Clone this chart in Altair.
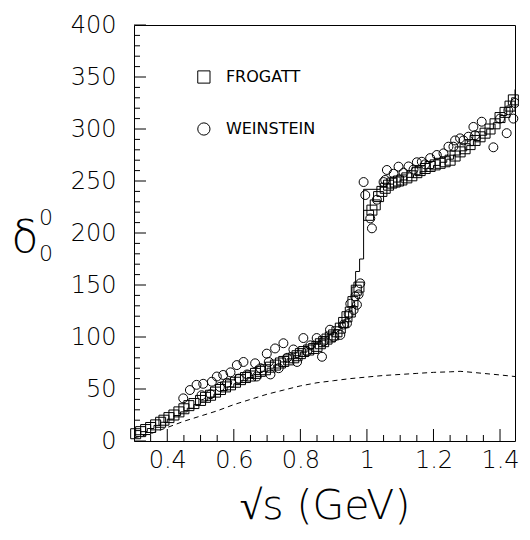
import altair as alt
import pandas as pd

AXFONT = "DejaVu Sans"

# FROGATT phase shifts (squares)
frog_x = [0.305, 0.32, 0.335, 0.35, 0.365, 0.38, 0.39, 0.405, 0.42, 0.435, 0.45, 0.465, 0.48, 0.50,
          0.515, 0.53, 0.545, 0.56, 0.575, 0.59, 0.605, 0.62, 0.635, 0.65, 0.665, 0.68, 0.695, 0.71,
          0.725, 0.74, 0.75, 0.765, 0.78, 0.79, 0.80, 0.81, 0.825, 0.84, 0.85, 0.86, 0.87, 0.88, 0.89,
          0.90, 0.91, 0.92, 0.93, 0.94, 0.95, 0.958, 0.968, 0.976, 1.005, 1.015, 1.025, 1.035, 1.045,
          1.055, 1.065, 1.075, 1.085, 1.095, 1.105, 1.12, 1.135, 1.15, 1.16, 1.175, 1.19, 1.205, 1.22,
          1.235, 1.25, 1.265, 1.28, 1.295, 1.31, 1.325, 1.34, 1.355, 1.37, 1.385, 1.40, 1.415, 1.43, 1.44]
frog_y = [7, 9, 11, 13, 15.5, 18, 20, 22.5, 25, 28, 31, 34, 36, 39,
          42, 44, 47, 49.5, 52, 54, 56.5, 59, 61, 62.5, 65, 67, 68.5, 71,
          73, 75, 76.5, 78, 80, 82, 84, 86, 87.5, 89, 91, 93.5, 95.5, 98, 100,
          102, 105, 108.5, 114, 119.5, 124, 134, 145, 148, 217, 222, 227, 235, 240,
          243, 246, 248, 249, 250, 251, 253, 255, 258, 260, 262, 264, 265.5, 267,
          268.5, 270, 274, 278, 281, 285, 289, 292.5, 296, 300, 305, 311, 316, 322, 328]

# WEINSTEIN phase shifts (circles)
wein_x = [0.448, 0.468, 0.488, 0.503, 0.508, 0.53, 0.534, 0.549, 0.558, 0.568, 0.58, 0.59, 0.609,
          0.615, 0.629, 0.64, 0.664, 0.669, 0.68, 0.699, 0.705, 0.71, 0.724, 0.735, 0.749, 0.76,
          0.779, 0.79, 0.809, 0.82, 0.83, 0.849, 0.865, 0.87, 0.889, 0.90, 0.92, 0.93, 0.94, 0.945,
          0.95, 0.96, 0.965, 0.97, 0.975, 0.98, 0.99, 0.995, 1.01, 1.015, 1.03, 1.05, 1.055, 1.06,
          1.08, 1.095, 1.11, 1.125, 1.14, 1.15, 1.165, 1.175, 1.19, 1.21, 1.23, 1.245, 1.26, 1.265,
          1.28, 1.29, 1.305, 1.32, 1.325, 1.345, 1.38, 1.40, 1.42, 1.425, 1.44, 1.445]
wein_y = [41, 49, 54, 44, 55, 45, 57, 62, 52, 63.5, 56, 66, 73,
          60, 76, 64, 74.7, 62, 70, 84, 76, 64, 89, 70, 94, 80,
          88, 76, 99, 86, 92, 99, 81, 96, 107, 100, 102, 112, 113, 122,
          132, 126, 139, 131, 141, 151.6, 249, 236.5, 214, 204.5, 232, 249, 251, 260.6,
          257, 263.8, 258, 264, 261, 268, 268.5, 266, 272, 275, 276.6, 283, 283, 289,
          291, 289, 292.6, 302, 294, 307, 282.4, 310, 296, 318, 310, 325]

# solid step curve
fit_x = [0.30, 0.32, 0.34, 0.36, 0.38, 0.40, 0.42, 0.44, 0.46, 0.48, 0.50, 0.52, 0.54, 0.56, 0.58,
         0.60, 0.62, 0.64, 0.66, 0.68, 0.70, 0.72, 0.74, 0.76, 0.78, 0.80, 0.82, 0.84, 0.86, 0.88,
         0.90, 0.92, 0.935, 0.945, 0.955, 0.966, 0.978, 0.99, 1.04, 1.06, 1.08, 1.10, 1.12, 1.14,
         1.16, 1.18, 1.20, 1.22, 1.24, 1.26, 1.28, 1.30, 1.32, 1.34, 1.36, 1.38, 1.40, 1.42, 1.435, 1.445]
fit_y = [6, 9, 12, 15, 18, 21, 24.5, 28, 31.5, 35, 38.5, 42, 45, 48.5, 52,
         55, 58, 61, 64, 67, 70, 73, 76, 79, 82, 85.5, 89, 93, 97, 102,
         107, 114, 119, 125, 148, 163, 175, 242, 244, 247, 249, 251, 253.5, 256,
         259, 262, 265, 268, 271, 275, 279, 284, 289, 294, 300, 306, 313, 321, 330, 338]

# dashed curve
dash_x = [0.30, 0.35, 0.40, 0.45, 0.50, 0.55, 0.60, 0.65, 0.70, 0.75, 0.80, 0.85, 0.90, 0.95,
          1.00, 1.05, 1.10, 1.15, 1.20, 1.25, 1.28, 1.30, 1.35, 1.40, 1.445]
dash_y = [3, 7, 13, 19, 24, 29, 35, 40, 45, 49, 53, 56, 58, 60,
          61.5, 63, 64, 65, 66, 66.5, 67, 66.5, 65, 63.5, 62]

x_major = [0.4, 0.6, 0.8, 1.0, 1.2, 1.4]
x_minor = [0.35, 0.45, 0.5, 0.55, 0.65, 0.7, 0.75, 0.85, 0.9, 0.95, 1.05, 1.1, 1.15, 1.25, 1.3, 1.35]
y_major = [0, 50, 100, 150, 200, 250, 300, 350, 400]
y_minor = [v for v in range(10, 400, 10) if v % 50 != 0]

legend_labels = ["FROGATT", "WEINSTEIN"]
legend_shapes = ["square", "circle"]
legend_x = [0.51, 0.51]
legend_y = [350, 300]

W, H = 381, 416
xs = alt.Scale(domain=[0.3, 1.445], nice=False, zero=False)
ys = alt.Scale(domain=[0, 400], nice=False, zero=False)

frog = pd.DataFrame({"x": frog_x, "y": frog_y})
wein = pd.DataFrame({"x": wein_x, "y": wein_y})
fit = pd.DataFrame({"x": fit_x, "y": fit_y})
dash = pd.DataFrame({"x": dash_x, "y": dash_y})
leg = pd.DataFrame({"x": legend_x, "y": legend_y, "label": legend_labels, "shape": legend_shapes})

xaxis = alt.Axis(values=x_major, format="~g", ticks=False, domain=False, grid=False,
                 labelFont=AXFONT, labelFontSize=24, labelFontWeight=200, labelColor="black",
                 labelPadding=7, labelFlush=False, labelOverlap=False,
                 title="√s (GeV)", titleFont=AXFONT, titleFontSize=41, titleFontWeight=200,
                 titleColor="black", titlePadding=14)
yaxis = alt.Axis(values=y_major, ticks=False, domain=False, grid=False,
                 labelFont=AXFONT, labelFontSize=24, labelFontWeight=200, labelColor="black",
                 labelPadding=18, labelFlush=False, labelOverlap=False, title=None)


def X(field="x"):
    return alt.X(f"{field}:Q", scale=xs, axis=xaxis, title="√s (GeV)")


def Y(field="y"):
    return alt.Y(f"{field}:Q", scale=ys, axis=yaxis, title=None)


squares = alt.Chart(frog).mark_point(shape="square", filled=False, size=100, color="black",
                                     strokeWidth=1, opacity=1).encode(x=X(), y=Y())
circles = alt.Chart(wein).mark_point(shape="circle", filled=False, size=80, color="black",
                                     strokeWidth=1, opacity=1).encode(x=X(), y=Y())
stepline = alt.Chart(fit).mark_line(interpolate="step-after", color="black", strokeWidth=1).encode(x=X(), y=Y())
dashed = alt.Chart(dash).mark_line(color="black", strokeWidth=1, strokeDash=[5, 4]).encode(x=X(), y=Y())


def xticks(vals, length):
    return alt.Chart(pd.DataFrame({"x": vals})).mark_rule(color="black", strokeWidth=1).encode(
        x=X(), y=alt.value(H), y2=alt.value(H - length))


def yticks(vals, length):
    return alt.Chart(pd.DataFrame({"y": vals})).mark_rule(color="black", strokeWidth=1).encode(
        y=Y(), x=alt.value(0), x2=alt.value(length))


leg_sym = alt.Chart(leg).mark_point(filled=False, size=150, color="black", strokeWidth=1, opacity=1).encode(
    x=X(), y=Y(), shape=alt.Shape("shape:N", scale=None, legend=None))
leg_txt = alt.Chart(leg).mark_text(align="left", baseline="middle", dx=22, font=AXFONT, fontSize=16,
                                   color="black").encode(x=X(), y=Y(), text="label:N")

one = pd.DataFrame({"a": [0]})
delta = alt.Chart(one).mark_text(text="δ", font=AXFONT, fontSize=44, fontWeight=200,
                                 color="black", align="center", baseline="middle").encode(
    x=alt.value(-109), y=alt.value(214))
sup0 = alt.Chart(one).mark_text(text="0", font=AXFONT, fontSize=22, fontWeight=200, color="black",
                                align="center", baseline="middle").encode(x=alt.value(-88), y=alt.value(193))
sub0 = alt.Chart(one).mark_text(text="0", font=AXFONT, fontSize=22, fontWeight=200, color="black",
                                align="center", baseline="middle").encode(x=alt.value(-88), y=alt.value(229))

chart = alt.layer(
    squares, xticks(x_major, 12), xticks(x_minor, 6), yticks(y_major, 12), yticks(y_minor, 6),
    dashed, stepline, circles, leg_sym, leg_txt, delta, sup0, sub0
).properties(
    width=W, height=H,
    padding={"left": 126, "top": 17, "right": 4, "bottom": 86},
    autosize=alt.AutoSizeParams(type="none"),
).configure_view(stroke="black", strokeWidth=1)

chart.save("out.html", embed_options={"renderer": "svg", "actions": False})
